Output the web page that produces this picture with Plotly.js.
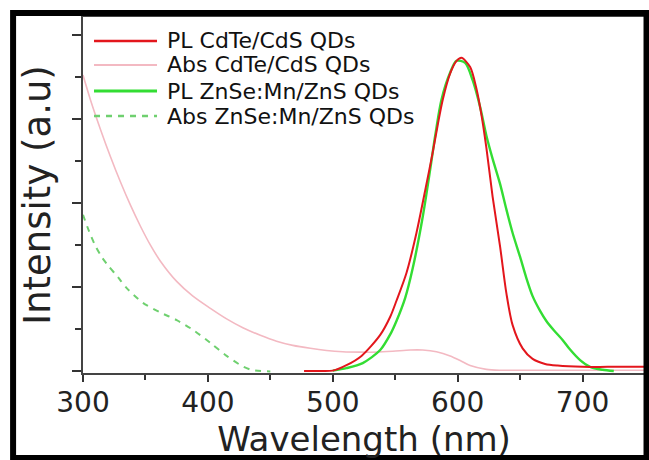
<!DOCTYPE html>
<html>
<head>
<meta charset="utf-8">
<script src="https://cdn.plot.ly/plotly-3.0.1.min.js"></script>
<style>
  html, body { margin: 0; padding: 0; background: #ffffff; }
  #chart { width: 649px; height: 460px; }
</style>
</head>
<body>
<div id="chart"></div>
<script>
// ---- Data ----
const seriesNames = ["PL CdTe/CdS QDs", "Abs CdTe/CdS QDs", "PL ZnSe:Mn/ZnS QDs", "Abs ZnSe:Mn/ZnS QDs"];
const seriesColors = ["#e3161c", "#f3b9c2", "#33dd33", "#6fd06f"];
const seriesDash = ["solid", "solid", "solid", "6px,6px"];
const seriesWidth = [2, 1.6, 2.4, 2];

// PL CdTe/CdS QDs (red)
const plCdTeX = [477, 490, 500, 511, 523, 538, 546, 551, 559, 567, 575, 580, 584, 588, 594, 599, 603, 610, 615, 619, 623, 628, 634, 639, 644, 652, 660, 670, 680, 700, 720, 750];
const plCdTeY = [0.01, 0.01, 0.02, 0.15, 0.37, 0.87, 1.30, 1.68, 2.34, 3.29, 4.45, 5.20, 5.85, 6.45, 7.08, 7.37, 7.45, 7.23, 6.72, 6.10, 5.31, 4.15, 2.96, 1.86, 1.10, 0.55, 0.30, 0.18, 0.14, 0.11, 0.11, 0.11];

// Abs CdTe/CdS QDs (pink)
const absCdTeX = [300, 306, 314, 322, 330, 338, 346, 354, 362, 375, 388, 402, 415, 428, 442, 455, 468, 482, 495, 508, 522, 535, 548, 562, 572, 583, 594, 602, 610, 623, 634, 660, 700, 750];
const absCdTeY = [7.04, 6.45, 5.75, 5.10, 4.50, 3.95, 3.45, 3.00, 2.62, 2.14, 1.79, 1.50, 1.25, 1.04, 0.86, 0.72, 0.62, 0.55, 0.50, 0.47, 0.46, 0.46, 0.48, 0.51, 0.51, 0.47, 0.37, 0.26, 0.14, 0.05, 0.03, 0.03, 0.03, 0.03];

// PL ZnSe:Mn/ZnS QDs (green)
const plZnSeX = [500, 511, 524, 538, 546, 551, 558, 564, 572, 578, 582, 587, 594, 599, 606, 612, 618, 623, 628, 634, 639, 644, 650, 655, 660, 666, 671, 677, 684, 690, 698, 706, 716, 725];
const plZnSeY = [0.02, 0.08, 0.20, 0.51, 0.88, 1.20, 1.75, 2.45, 3.67, 4.80, 5.60, 6.45, 7.10, 7.38, 7.33, 6.92, 6.28, 5.60, 5.05, 4.45, 3.85, 3.29, 2.72, 2.22, 1.79, 1.44, 1.20, 0.98, 0.75, 0.52, 0.27, 0.11, 0.04, 0.01];

// Abs ZnSe:Mn/ZnS QDs (dashed green)
const absZnSeX = [300, 305, 310, 315, 320, 328, 335, 348, 362, 375, 388, 402, 415, 428, 436, 450];
const absZnSeY = [3.72, 3.32, 2.98, 2.72, 2.52, 2.24, 1.98, 1.63, 1.40, 1.22, 0.99, 0.68, 0.37, 0.12, 0.03, 0.00];

const xTickVals = [300, 400, 500, 600, 700];
const xTickText = ["300", "400", "500", "600", "700"];

// ---- Traces ----
const xs = [plCdTeX, absCdTeX, plZnSeX, absZnSeX];
const ys = [plCdTeY, absCdTeY, plZnSeY, absZnSeY];
const drawOrder = [1, 3, 2, 0];
const traces = drawOrder.map(i => ({
  type: "scatter",
  mode: "lines",
  name: seriesNames[i],
  x: xs[i],
  y: ys[i],
  line: { color: seriesColors[i], width: seriesWidth[i], dash: seriesDash[i], shape: "spline", smoothing: 0.8 },
  showlegend: false,
  hoverinfo: "skip"
}));

// ---- Hand-placed legend (no box, tight rows as in the reference) ----
const legX0 = 0.0196, legX1 = 0.1317, legTextX = 0.1477;
const legRows = [0.9326, 0.8652, 0.7921, 0.7219];
const shapes = [];
const annotations = [];
seriesNames.forEach((nm, i) => {
  shapes.push({
    type: "line", xref: "paper", yref: "paper",
    x0: legX0, x1: legX1, y0: legRows[i], y1: legRows[i],
    line: { color: seriesColors[i], width: seriesWidth[i] + 0.6, dash: seriesDash[i] }
  });
  annotations.push({
    xref: "paper", yref: "paper", x: legTextX, y: legRows[i],
    xanchor: "left", yanchor: "middle", showarrow: false, borderpad: 0,
    text: nm, font: { family: "DejaVu Sans", size: 22, color: "#111" }
  });
});
// outer black frame of the figure
shapes.push({
  type: "rect", xref: "paper", yref: "paper",
  x0: -0.1244, x1: 1.0027, y0: -0.2388, y1: 1.0112,
  line: { color: "#000", width: 6 }, fillcolor: "rgba(0,0,0,0)", layer: "above"
});

const layout = {
  width: 649, height: 460,
  margin: { l: 83, r: 4, t: 17, b: 87, pad: 0 },
  paper_bgcolor: "#ffffff", plot_bgcolor: "#ffffff",
  font: { family: "DejaVu Sans", color: "#222" },
  showlegend: false,
  xaxis: {
    range: [300, 750], tickmode: "array", tickvals: xTickVals, ticktext: xTickText,
    ticks: "outside", ticklen: 7, tickwidth: 2, tickcolor: "#333",
    minor: { tickmode: "linear", tick0: 350, dtick: 100, ticks: "outside", ticklen: 5, tickwidth: 2, tickcolor: "#333" },
    showline: true, linecolor: "#444", linewidth: 2, mirror: true,
    showgrid: false, zeroline: false,
    ticklabelstandoff: -4,
    tickfont: { family: "DejaVu Sans", size: 28, color: "#222" },
    title: { text: "Wavelength (nm)", font: { family: "DejaVu Sans", size: 34, color: "#222" }, standoff: 0 }
  },
  yaxis: {
    range: [-0.036, 8.42], tickmode: "linear", tick0: 0, dtick: 2,
    ticks: "outside", ticklen: 9, tickwidth: 2, tickcolor: "#333",
    minor: { tickmode: "linear", tick0: 1, dtick: 2, ticks: "outside", ticklen: 6, tickwidth: 2, tickcolor: "#333" },
    showticklabels: false,
    showline: true, linecolor: "#444", linewidth: 2, mirror: true,
    showgrid: false, zeroline: false,
    title: { text: "Intensity (a.u)", font: { family: "DejaVu Sans", size: 37, color: "#222" }, standoff: 10 }
  },
  shapes: shapes,
  annotations: annotations
};

Plotly.newPlot("chart", traces, layout, { staticPlot: true, displayModeBar: false });
</script>
</body>
</html>
